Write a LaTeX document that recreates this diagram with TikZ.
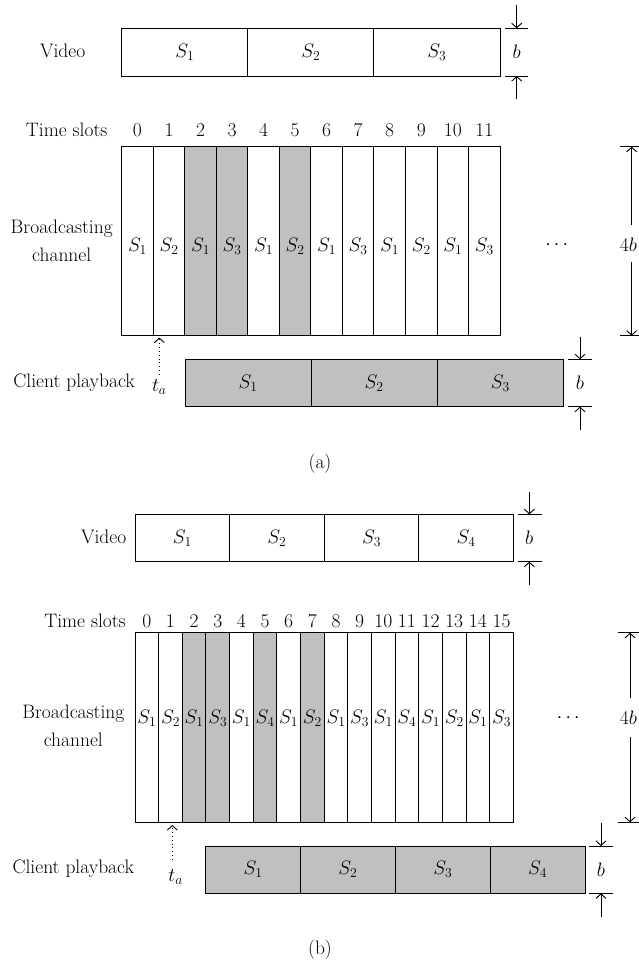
\RequirePackage{fix-cm}
\documentclass[tikz,border=0pt]{standalone}
\usetikzlibrary{arrows.meta}
\definecolor{shade}{HTML}{C0C0C0}
\begin{document}
\begin{tikzpicture}[x=1pt,y=-1pt,font=\fontsize{19.5}{23}\selectfont,
  cell/.style={draw,line width=0.9pt,inner sep=0pt,outer sep=0pt,anchor=north west,fill=white},
  gcell/.style={cell,fill=shade},
  twoline/.style={align=center,font=\fontsize{19.5}{28}\selectfont},
  dimtick/.style={line width=0.9pt},
  dimarrow/.style={line width=0.9pt,-{Straight Barb[length=4.5pt,width=10pt]}},
  dotarrow/.style={line width=0.9pt,dash pattern=on 0.9pt off 3pt,-{Straight Barb[length=4.5pt,width=10pt,line width=0.9pt]}}
]
\useasboundingbox (0,0) rectangle (639,968);

% ================= (a) =================
% Video
\node (avideo) at (62.7,51) {Video};
\foreach \i/\s in {0/1,1/2,2/3}
  \node[cell,minimum width=126.1pt,minimum height=47.7pt] (av\s) at ({121.7+126.1*\i},28.3) {$S_{\s}$};
% b dimension
\coordinate (avbt) at (516.7,28.3);
\coordinate (avbb) at (516.7,76);
\coordinate (avbs) at (516.7,5);
\coordinate (avbe) at (516.7,99.3);
\draw[dimtick] (505,28.3) -- (528.3,28.3);
\draw[dimtick] (505,76) -- (528.3,76);
\draw[dimarrow] (avbs) -- (avbt);
\draw[dimarrow] (avbe) -- (avbb);
\node (avb) at (516.7,52) {$b$};

% Time slots
\node[anchor=base] (ats) at (66.7,137) {Time slots};
\foreach \i in {0,...,11}
  \node[anchor=base] (an\i) at ({121.7+31.53*(\i+0.5)},137) {\i};

% Broadcasting channel
\node[twoline] (abc) at (61.7,240.5) {Broadcasting\\channel};
\foreach \i/\s/\f in {0/1/white,1/2/white,2/1/shade,3/3/shade,4/1/white,5/2/shade,6/1/white,7/3/white,8/1/white,9/2/white,10/1/white,11/3/white}{
  \node[cell,fill=\f,minimum width=31.53pt,minimum height=189pt] (ab\i) at ({121.7+31.53*\i},146.7) {};
  \node (abl\i) at ({121.7+31.53*(\i+0.5)},246) {$S_{\s}$};
}
\node (adots) at (556.7,245) {$\cdots$};
% 4b dimension
\coordinate (a4t) at (631.7,146.7);
\coordinate (a4b) at (631.7,335.7);
\coordinate (a4u) at (631.7,225);
\coordinate (a4d) at (631.7,262);
\draw[dimtick] (620,146.7) -- (645,146.7);
\draw[dimtick] (620,335.7) -- (645,335.7);
\draw[dimarrow] (a4u) -- (a4t);
\draw[dimarrow] (a4d) -- (a4b);
\node[inner sep=1pt] (a4lab) at (628.5,245) {$4b$};

% t_a
\node (ata) at (159.3,387) {$t_a$};
\coordinate (atip) at (159.3,337.5);
\coordinate (atst) at (159.3,375);
\draw[dotarrow] (atst) -- (atip);

% Client playback
\node (acp) at (74.2,383) {Client playback};
\foreach \i/\s in {0/1,1/2,2/3}
  \node[gcell,minimum width=126.1pt,minimum height=47.4pt] (ac\s) at ({185+126.1*\i},359.3) {$S_{\s}$};
\coordinate (acbt) at (580,359.3);
\coordinate (acbb) at (580,406.7);
\coordinate (acbs) at (580,336.7);
\coordinate (acbe) at (580,430);
\draw[dimtick] (568.3,359.3) -- (591.7,359.3);
\draw[dimtick] (568.3,406.7) -- (591.7,406.7);
\draw[dimarrow] (acbs) -- (acbt);
\draw[dimarrow] (acbe) -- (acbb);
\node (acb) at (580,383) {$b$};

\node (acap) at (320,463.3) {(a)};

% ================= (b) =================
\node (bvideo) at (103.7,537) {Video};
\foreach \i/\s in {0/1,1/2,2/3,3/4}
  \node[cell,minimum width=94.6pt,minimum height=47.4pt] (bv\s) at ({135+94.6*\i},514.3) {$S_{\s}$};
\coordinate (bvbt) at (529.3,514.3);
\coordinate (bvbb) at (529.3,561.7);
\coordinate (bvbs) at (529.3,491.7);
\coordinate (bvbe) at (529.3,585);
\draw[dimtick] (518.3,514.3) -- (541.7,514.3);
\draw[dimtick] (518.3,561.7) -- (541.7,561.7);
\draw[dimarrow] (bvbs) -- (bvbt);
\draw[dimarrow] (bvbe) -- (bvbb);
\node (bvb) at (529.3,538) {$b$};

% Time slots
\node[anchor=base] (bts) at (85,627) {Time slots};
\foreach \i in {0,...,15}
  \node[anchor=base] (bn\i) at ({135+23.646*(\i+0.5)},627) {\i};

% Broadcasting channel
\node[twoline] (bbc) at (73.3,726) {Broadcasting\\channel};
\foreach \i/\s/\f in {0/1/white,1/2/white,2/1/shade,3/3/shade,4/1/white,5/4/shade,6/1/white,7/2/shade,8/1/white,9/3/white,10/1/white,11/4/white,12/1/white,13/2/white,14/1/white,15/3/white}{
  \node[cell,fill=\f,minimum width=23.646pt,minimum height=189.6pt] (bb\i) at ({135+23.646*\i},632.7) {};
  \node[inner sep=0pt] (bbl\i) at ({135+23.646*(\i+0.5)},718) {$S_{\s}$};
}
\node (bdots) at (568.3,718) {$\cdots$};
\coordinate (b4t) at (630,632.7);
\coordinate (b4b) at (630,822.3);
\coordinate (b4u) at (630,698.3);
\coordinate (b4d) at (630,736.7);
\draw[dimtick] (617.7,632.7) -- (645,632.7);
\draw[dimtick] (617.7,822.3) -- (645,822.3);
\draw[dimarrow] (b4u) -- (b4t);
\draw[dimarrow] (b4d) -- (b4b);
\node[inner sep=1pt] (b4lab) at (628.5,718) {$4b$};

% t_a
\node (bta) at (175.7,876.7) {$t_a$};
\coordinate (btip) at (172.3,825);
\coordinate (btst) at (172.3,860);
\draw[dotarrow] (btst) -- (btip);

% Client playback
\node (bcp) at (73.3,868.3) {Client playback};
\foreach \i/\s in {0/1,1/2,2/3,3/4}
  \node[gcell,minimum width=94.83pt,minimum height=47.3pt] (bc\s) at ({205.7+94.83*\i},846) {$S_{\s}$};
\coordinate (bcbt) at (601,846);
\coordinate (bcbb) at (601,893.3);
\coordinate (bcbs) at (601,823.3);
\coordinate (bcbe) at (601,916.7);
\draw[dimtick] (589.3,846) -- (612.7,846);
\draw[dimtick] (589.3,893.3) -- (612.7,893.3);
\draw[dimarrow] (bcbs) -- (bcbt);
\draw[dimarrow] (bcbe) -- (bcbb);
\node (bcb) at (601,870) {$b$};

\node (bcap) at (320,950) {(b)};
\end{tikzpicture}
\end{document}
